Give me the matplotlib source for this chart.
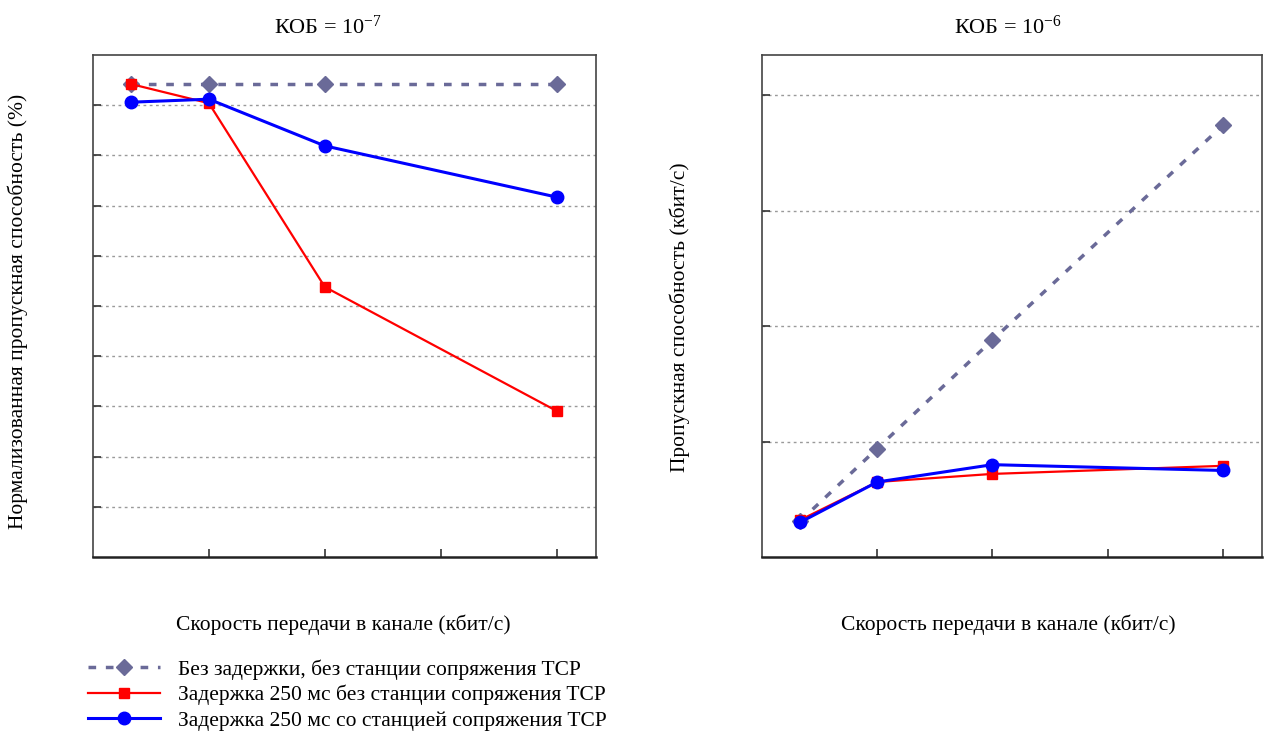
import matplotlib
matplotlib.use("Agg")
import matplotlib.pyplot as plt

plt.rcParams['font.family'] = ['Liberation Serif', 'DejaVu Serif']
plt.rcParams['mathtext.fontset'] = 'custom'
plt.rcParams['mathtext.rm'] = 'Liberation Serif'
plt.rcParams['mathtext.it'] = 'Liberation Serif'

# channel rate positions (no tick labels in the original)
x_pts = [0.33, 1, 2, 4]
x_ticks = [1, 2, 3, 4]

# KOB = 1e-7, normalised throughput (%)
left_nodelay = [94.2, 94.2, 94.2, 94.2]
left_delay = [94.2, 90.4, 53.8, 29.1]
left_pep = [90.6, 91.2, 81.9, 71.7]
left_yticks = [10, 20, 30, 40, 50, 60, 70, 80, 90]

# KOB = 1e-6, throughput (kbit/s, relative units)
right_nodelay = [0.31, 0.94, 1.88, 3.74]
right_delay = [0.32, 0.65, 0.72, 0.79]
right_pep = [0.30, 0.65, 0.80, 0.75]
right_yticks = [1, 2, 3, 4]

labels = ["Без задержки, без станции сопряжения TCP",
          "Задержка 250 мс без станции сопряжения TCP",
          "Задержка 250 мс со станцией сопряжения TCP"]

gray = '#6a6a98'
red = '#ff0000'
blue = '#0000ff'
fs = 15.5

W, H = 1264, 733
fig = plt.figure(figsize=(W / 100, H / 100), dpi=100)


def box(x0, y0, x1, y1):
    return [x0 / W, 1 - y1 / H, (x1 - x0) / W, (y1 - y0) / H]


ax1 = fig.add_axes(box(93, 55, 596, 557))
ax2 = fig.add_axes(box(762, 55, 1262, 557))


def draw(ax, nd, dl, pep, yticks, ylim):
    ax.plot(x_pts, nd, color=gray, lw=2.5, ls=(0, (2.2, 2.8)), marker='D',
            ms=8, zorder=3)
    ax.plot(x_pts, dl, color=red, lw=1.6, marker='s', ms=6.5, zorder=4)
    ax.plot(x_pts, pep, color=blue, lw=2.2, marker='o', ms=9, zorder=5)
    ax.set_xlim(0, 4.34)
    ax.set_ylim(*ylim)
    ax.set_xticks(x_ticks)
    ax.set_yticks(yticks)
    ax.set_xticklabels([])
    ax.set_yticklabels([])
    ax.tick_params(direction='in', length=6, width=1.2, color='#333333')
    for y in yticks:
        ax.axhline(y, color='#9a9a9a', lw=1, ls=(0, (2, 2.5)), zorder=1)
    for s in ax.spines.values():
        s.set_color('#444444')
        s.set_linewidth(1.2)
    ax.spines['bottom'].set_color('#222222')
    ax.spines['bottom'].set_linewidth(1.8)


draw(ax1, left_nodelay, left_delay, left_pep, left_yticks, (0, 100))
draw(ax2, right_nodelay, right_delay, right_pep, right_yticks, (0, 4.35))

fig.text(328 / W, 1 - 27 / H, 'КОБ = 10$^{\u22127}$', ha='center', va='center',
         fontsize=fs + 0.5)
fig.text(1008 / W, 1 - 27 / H, 'КОБ = 10$^{\u22126}$', ha='center', va='center',
         fontsize=fs + 0.5)

fig.text(343 / W, 1 - 625 / H, 'Скорость передачи в канале (кбит/с)',
         ha='center', va='center', fontsize=fs)
fig.text(1008 / W, 1 - 625 / H, 'Скорость передачи в канале (кбит/с)',
         ha='center', va='center', fontsize=fs)
fig.text(18 / W, 1 - 311 / H, 'Нормализованная пропускная способность (%)',
         ha='center', va='center', rotation=90, fontsize=fs)
fig.text(680 / W, 1 - 317 / H, 'Пропускная способность (кбит/с)',
         ha='center', va='center', rotation=90, fontsize=fs)

handles = ax1.get_lines()[:3]
fig.legend(handles, labels, loc='upper left',
           bbox_to_anchor=(88 / W, 1 - 659 / H), frameon=False,
           fontsize=fs, handlelength=3.35, handletextpad=0.85,
           labelspacing=0.25, borderaxespad=0, borderpad=0)

fig.savefig('out.png', dpi=100)
